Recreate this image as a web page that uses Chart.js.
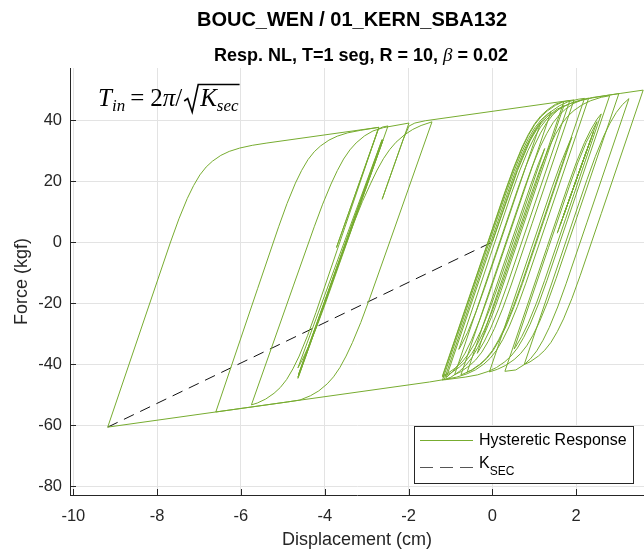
<!DOCTYPE html>
<html>
<head>
<meta charset="utf-8">
<script src="https://cdn.jsdelivr.net/npm/chart.js@4.4.1/dist/chart.umd.min.js"></script>
<style>
  html, body { margin: 0; padding: 0; background: #fff; }
  canvas { display: block; }
</style>
</head>
<body>
<canvas id="hystChart" width="644" height="550"></canvas>
<script>
// Hysteretic response.
// One line per branch, same line order in both arrays.
const DISP_CM = [
  0, 0.6, 0.9, 1.1, 1.3, 1.55, 1.9, 2.3,
  1.3, 0.8, 0.6, 0.4, 0.25, 0.1, -0.05, -0.2, -0.4, -0.6, -0.85, -1.15, -1.5, -9.18,
  -7.68, -7.48, -7.28, -7.13, -6.98, -6.83, -6.68, -6.48, -6.28, -6.03, -5.73, -5.38, -2.71,
  -3.72, -2.72, -2.62, -2.49,
  -3.49, -3.99, -4.19, -4.39, -4.54, -4.64, -2.63, -4.63, -2.62, -4.64, -2.61, -4.64,
  -3.64, -3.3, -3.1, -2.9, -2.75, -2.6, -2.45, -2.3, -2.1, -1.9, -1.7, -1.44,
  -2.44, -2.94, -3.14, -3.34, -3.49, -3.64, -3.79, -3.94, -4.14, -4.34, -4.59, -4.89, -6.6,
  -5.6, -5.1, -4.9, -4.7, -4.55, -4.4, -4.25, -4.1, -3.9, -3.7, -3.45, -3.15, -2.71,
  -3.71, -4.21, -4.41, -4.61, -4.76, -4.91, -5.06, -5.21, -5.41, -5.61, -5.75,
  -4.75, -4.25, -4.05, -3.85, -3.7, -3.55, -3.4, -3.25, -3.05, -2.85, -2.6, -1.99,
  -2.63, -2.13, -1.99, -1.85, -1.6, 1.71,
  0.71, 0.21, 0.01, -0.19, -0.34, -0.49, -0.64, -0.79, -0.99, -1.19,
  -0.19, 0.31, 0.51, 0.71, 0.86, 1.01, 1.16, 1.31, 1.51, 1.71, 1.95,
  0.95, 0.45, 0.25, 0.05, -0.1, -0.25, -0.4, -0.55, -0.75, -0.9,
  0.1, 0.6, 0.8, 1.0, 1.15, 1.3, 1.45, 1.6, 1.71,
  0.71, 0.21, 0.01, -0.19, -0.34, -0.49, -0.64, -0.79, -0.99, -1.19,
  -0.19, 0.31, 0.51, 0.71, 0.86, 1.01, 1.16, 1.31, 1.4,
  0.4, -0.1, -0.3, -0.5, -0.65, -0.8, -0.95, -1.1,
  -0.1, 0.4, 0.6, 0.8, 0.95, 1.1, 1.25, 1.4, 1.6, 1.8, 2.05, 2.2,
  1.2, 0.7, 0.5, 0.3, 0.15, 0.0, -0.15, -0.3, -0.5, -0.6,
  0.4, 0.9, 1.1, 1.25,
  0.63, 0.13, -0.07, -0.27, -0.42, -0.57, -0.72, -0.87, -1.07, -1.19,
  -0.19, 0.31, 0.51, 0.71, 0.86, 1.01, 1.16, 1.31, 1.51, 1.71, 1.85,
  0.85, 0.35, 0.15, -0.05, -0.2, -0.36,
  0.45, 0.95, 1.15, 1.35, 1.5, 1.65, 1.8, 1.95, 2.15, 2.35, 2.6, 2.8,
  1.8, 1.3, 1.1, 0.9, 0.75, 0.6, 0.45, 0.3, 0.1, -0.1, -0.35, -0.65, -1.15,
  -0.15, 0.35, 0.55, 0.75, 0.9, 1.05, 1.16,
  0.31, -0.19, -0.39, -0.59, -0.74, -0.8,
  -0.05, 0.45, 0.65, 0.85, 1.0, 1.15, 1.3, 1.45, 1.65, 1.85, 2.1, 2.4, 2.75, 3.02,
  2.02, 1.52, 1.32, 1.12, 0.97, 0.82, 0.67, 0.52, 0.32, 0.12, -0.07,
  0.93, 1.43, 1.63, 1.83, 1.9,
  1.22, 0.72, 0.52, 0.32, 0.17, 0.02, -0.13, -0.28, -0.48, -0.75,
  0.25, 0.75, 0.95, 1.15, 1.3, 1.45, 1.6, 1.75, 1.95, 2.15, 2.4, 2.7, 3.05, 3.6,
  2.6, 2.1, 1.9, 1.7, 1.55, 1.4, 1.25, 1.1, 0.9, 0.76,
  1.76, 2.26, 2.46, 2.66, 2.81, 2.96, 3.11, 3.26,
  2.26, 1.76, 1.56, 1.36, 1.21, 1.06, 0.91, 0.76, 0.56, 0.3,
  1.3, 1.8, 2.0, 2.2, 2.35, 2.5, 2.6,
  1.75, 1.25, 1.05, 0.85, 0.7, 0.55, 0.52,
  1.34, 1.84, 2.04, 2.24, 2.5,
  1.55, 2.42, 1.62, 2.35, 1.7, 2.25, 1.95
];
const FORCE_KGF = [
  0, 23.4, 33.2, 37.8, 41.0, 43.6, 45.6, 47.2,
  6.7, -13.5, -21.1, -27.8, -32.0, -35.5, -38.1, -40.0, -41.9, -43.2, -44.3, -45.1, -45.9, -60.7,
  0.0, 7.6, 14.3, 18.5, 22.0, 24.6, 26.5, 28.4, 29.7, 30.8, 31.7, 32.45, 37.6,
  -1.8, 37.0, 37.7, 38.05,
  -0.95, -20.35, -27.75, -34.35, -38.75, -41.25, 33.6, -43.6, 33.5, -44.3, 33.4, -44.7,
  -6.2, 6.5, 13.3, 19.3, 23.6, 27.3, 30.3, 32.7, 35.1, 36.9, 38.2, 39.4,
  0.4, -19.0, -26.4, -33.0, -37.4, -41.2, -44.2, -46.5, -48.8, -50.4, -51.8, -52.45, -55.74,
  -15.2, 5.0, 12.6, 19.3, 23.5, 27.0, 29.6, 31.5, 33.4, 34.7, 35.8, 36.6, 37.6,
  -2.9, -23.1, -30.7, -37.4, -41.6, -45.1, -47.7, -49.6, -51.5, -52.8, -53.4,
  -14.4, 5.0, 12.4, 19.0, 23.4, 27.2, 30.2, 32.5, 34.8, 36.4, 37.5, 39.0,
  14.0, 33.5, 38.0, 39.0, 39.75, 46.15,
  5.65, -14.55, -22.15, -28.85, -33.05, -36.55, -39.15, -41.05, -42.95, -44.25,
  -3.75, 16.45, 24.05, 30.75, 34.95, 38.45, 41.05, 42.95, 44.85, 46.1, 46.6,
  6.1, -14.1, -21.7, -28.4, -32.6, -36.1, -38.7, -40.6, -42.5, -43.5,
  -3.0, 17.2, 24.8, 31.5, 35.7, 39.2, 41.8, 43.7, 44.75,
  4.25, -15.95, -23.55, -30.25, -34.45, -37.95, -40.55, -42.45, -44.35, -45.3,
  -4.8, 15.4, 23.0, 29.7, 33.9, 37.4, 40.0, 41.9, 42.75,
  2.25, -17.95, -25.55, -32.25, -36.45, -39.95, -42.55, -44.45,
  -3.95, 16.25, 23.85, 30.55, 34.75, 38.25, 40.85, 42.75, 44.65, 45.95, 46.8, 47.1,
  6.6, -13.6, -21.2, -27.9, -32.1, -35.6, -38.2, -40.1, -42.0, -42.65,
  -2.15, 18.05, 25.65, 30.65,
  5.5, -14.7, -22.3, -29.0, -33.2, -36.7, -39.3, -41.2, -43.1, -43.9,
  -3.4, 16.8, 24.4, 31.1, 35.3, 38.8, 41.4, 43.3, 45.2, 46.1, 46.4,
  5.9, -14.3, -21.9, -28.6, -32.8, -36.5,
  -3.56, 16.64, 24.24, 30.94, 35.14, 38.64, 41.24, 43.14, 45.04, 46.34, 47.44, 47.95,
  7.45, -12.75, -20.35, -27.05, -31.25, -34.75, -37.35, -39.25, -41.15, -42.45, -43.55, -44.3, -45.2,
  -4.7, 15.5, 23.1, 29.8, 34.0, 37.5, 39.4,
  4.88, -15.32, -22.92, -29.62, -33.82, -35.2,
  -4.52, 15.68, 23.28, 29.98, 34.18, 37.68, 40.28, 42.18, 44.08, 45.38, 46.48, 47.28, 48.08, 48.65,
  8.15, -12.05, -19.65, -26.35, -30.55, -34.05, -36.65, -38.55, -40.45, -41.75, -42.6,
  -2.1, 18.1, 25.7, 32.4, 34.4,
  6.63, -13.57, -21.17, -27.87, -32.07, -35.57, -38.17, -40.07, -41.97, -43.6,
  -3.1, 17.1, 24.7, 31.4, 35.6, 39.1, 41.7, 43.6, 45.5, 46.6, 47.4, 48.0, 48.7, 49.8,
  9.3, -10.9, -18.5, -25.2, -29.4, -32.9, -35.5, -37.4, -39.3, -40.2,
  0.3, 20.5, 28.1, 34.8, 39.0, 42.5, 45.1, 47.0,
  6.5, -13.7, -21.3, -28.0, -32.2, -35.7, -38.3, -40.2, -41.95, -42.4,
  -1.9, 18.3, 25.9, 32.6, 36.8, 40.3, 42.0,
  7.66, -12.54, -20.14, -26.84, -31.04, -34.54, -35.1,
  -1.85, 18.35, 25.95, 32.65, 39.45,
  2.9, 36.4, 5.6, 33.7, 8.7, 29.9, 18.35
];

// secant stiffness line: peak negative point to origin
const KSEC_DISP = [-9.18, 0];
const KSEC_FORCE = [-60.7, 0];

const X_TICKS = [-10, -8, -6, -4, -2, 0, 2];
const Y_TICKS = [-80, -60, -40, -20, 0, 20, 40];

const TITLE = "BOUC_WEN / 01_KERN_SBA132";
const SUB_A = "Resp. NL, T=1 seg, R = 10, ";
const SUB_BETA = "β";
const SUB_B = " = 0.02";
const X_LABEL = "Displacement (cm)";
const Y_LABEL = "Force (kgf)";

const SANS = "'Liberation Sans', Arial, Helvetica, sans-serif";
const SERIF = "'Liberation Serif', 'DejaVu Serif', serif";
const INK = "#262626";
const GREEN = "#77ac30";
const GRID = "#e3e3e3";

function toPoints(xs, ys) {
  return xs.map((x, i) => ({ x, y: ys[i] }));
}

function drawEquation(ctx) {
  const base = 106;
  let x = 98;
  ctx.fillStyle = "#000";
  ctx.textAlign = "left";
  ctx.textBaseline = "alphabetic";
  const put = (txt, font, dy) => {
    ctx.font = font;
    ctx.fillText(txt, x, base + (dy || 0));
    x += ctx.measureText(txt).width;
  };
  put("T", `italic 25px ${SERIF}`);
  put("in", `italic 17px ${SERIF}`, 5);
  x += 5;
  put("=", `25px ${SERIF}`);
  x += 6;
  put("2", `25px ${SERIF}`);
  put("π", `italic 25px ${SERIF}`);
  put("/", `25px ${SERIF}`);
  const r0 = x + 2;
  x = r0 + 16;
  put("K", `italic 25px ${SERIF}`);
  put("sec", `italic 17px ${SERIF}`, 5);
  ctx.beginPath();
  ctx.lineWidth = 1.6;
  ctx.strokeStyle = "#000";
  ctx.moveTo(r0, 101);
  ctx.lineTo(r0 + 3.5, 98.5);
  ctx.lineTo(r0 + 8, 112);
  ctx.lineTo(r0 + 14, 84.5);
  ctx.lineTo(x + 1, 84.5);
  ctx.stroke();
}

const decorations = {
  id: "decorations",
  afterDraw(chart) {
    const { ctx, chartArea: a } = chart;
    const xs = chart.scales.x, ys = chart.scales.y;
    const cx = (a.left + a.right) / 2;
    ctx.save();

    // inward ticks
    ctx.strokeStyle = INK;
    ctx.lineWidth = 1;
    ctx.beginPath();
    X_TICKS.forEach(v => {
      const px = Math.round(xs.getPixelForValue(v)) + 0.5;
      ctx.moveTo(px, a.bottom);
      ctx.lineTo(px, a.bottom - 6);
    });
    Y_TICKS.forEach(v => {
      const py = Math.round(ys.getPixelForValue(v)) + 0.5;
      ctx.moveTo(a.left, py);
      ctx.lineTo(a.left + 6, py);
    });
    ctx.stroke();

    // titles
    ctx.fillStyle = "#000";
    ctx.textBaseline = "middle";
    ctx.textAlign = "center";
    ctx.font = `bold 20px ${SANS}`;
    ctx.fillText(TITLE, cx - 5, 20);

    const parts = [
      [SUB_A, `bold 18px ${SANS}`],
      [SUB_BETA, `italic 19px ${SERIF}`],
      [SUB_B, `bold 18px ${SANS}`],
    ];
    let total = 0;
    parts.forEach(p => { ctx.font = p[1]; total += ctx.measureText(p[0]).width; });
    let sx = cx + 4 - total / 2;
    ctx.textAlign = "left";
    parts.forEach(p => {
      ctx.font = p[1];
      ctx.fillText(p[0], sx, 56);
      sx += ctx.measureText(p[0]).width;
    });

    // axis titles
    ctx.fillStyle = INK;
    ctx.textAlign = "center";
    ctx.font = `18px ${SANS}`;
    ctx.fillText(X_LABEL, cx, 540);
    ctx.save();
    ctx.translate(22, (a.top + a.bottom) / 2);
    ctx.rotate(-Math.PI / 2);
    ctx.fillText(Y_LABEL, 0, 0);
    ctx.restore();

    drawEquation(ctx);

    // legend
    const ds = chart.data.datasets;
    ctx.fillStyle = "#fff";
    ctx.fillRect(414.5, 426.5, 219, 57);
    ctx.strokeStyle = INK;
    ctx.lineWidth = 1;
    ctx.strokeRect(414.5, 426.5, 219, 57);

    ctx.beginPath();
    ctx.strokeStyle = ds[0].borderColor;
    ctx.moveTo(420, 440.5);
    ctx.lineTo(473, 440.5);
    ctx.stroke();

    ctx.beginPath();
    ctx.strokeStyle = "#555";
    ctx.setLineDash([13, 7]);
    ctx.moveTo(420, 467.5);
    ctx.lineTo(473, 467.5);
    ctx.stroke();
    ctx.setLineDash([]);

    ctx.fillStyle = "#000";
    ctx.textAlign = "left";
    ctx.textBaseline = "middle";
    ctx.font = `16px ${SANS}`;
    ctx.fillText(ds[0].label, 479, 441);
    ctx.fillText("K", 479, 464);
    const kw = ctx.measureText("K").width;
    ctx.font = `12px ${SANS}`;
    ctx.fillText("SEC", 479 + kw, 472);

    ctx.restore();
  }
};

new Chart(document.getElementById("hystChart"), {
  type: "scatter",
  data: {
    datasets: [
      {
        label: "Hysteretic Response",
        data: toPoints(DISP_CM, FORCE_KGF),
        showLine: true,
        borderColor: GREEN,
        borderWidth: 1,
        pointRadius: 0,
        tension: 0,
        fill: false,
      },
      {
        label: "KSEC",
        data: toPoints(KSEC_DISP, KSEC_FORCE),
        showLine: true,
        borderColor: "#111",
        borderWidth: 1,
        borderDash: [11, 7],
        pointRadius: 0,
        fill: false,
      },
    ],
  },
  options: {
    responsive: false,
    animation: false,
    devicePixelRatio: 1,
    layout: { padding: { top: 68, right: 0, bottom: 0, left: 0 } },
    plugins: {
      legend: { display: false },
      tooltip: { enabled: false },
    },
    scales: {
      x: {
        type: "linear",
        min: -10.08,
        max: 3.62,
        afterBuildTicks: s => { s.ticks = X_TICKS.map(v => ({ value: v })); },
        afterFit: s => { s.height = 55; },
        grid: { color: GRID, drawTicks: false },
        border: { color: INK, width: 1 },
        ticks: { color: INK, font: { family: SANS, size: 16.5 }, padding: 12, maxRotation: 0 },
      },
      y: {
        type: "linear",
        min: -82.95,
        max: 57.05,
        afterBuildTicks: s => { s.ticks = Y_TICKS.map(v => ({ value: v })); },
        afterFit: s => { s.width = 70; },
        grid: { color: GRID, drawTicks: false },
        border: { color: INK, width: 1 },
        ticks: { color: INK, font: { family: SANS, size: 16.5 }, padding: 8 },
      },
    },
  },
  plugins: [decorations],
});
</script>
</body>
</html>
